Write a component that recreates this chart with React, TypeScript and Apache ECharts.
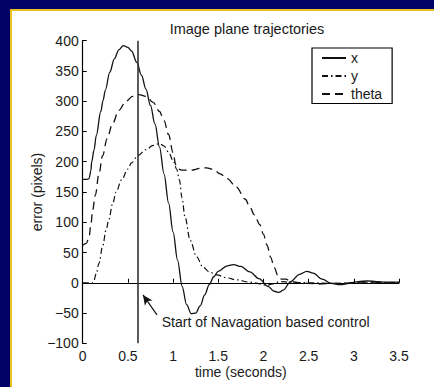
import React, { useEffect, useRef } from "react";
import * as echarts from "echarts";

const xTicks = [0, 0.5, 1, 1.5, 2, 2.5, 3, 3.5];
const yTicks = [-100, -50, 0, 50, 100, 150, 200, 250, 300, 350, 400];

const xTime = [0, 0.05, 0.07, 0.09, 0.1, 0.125, 0.15, 0.2, 0.225, 0.25, 0.3, 0.35, 0.4, 0.45, 0.5, 0.54, 0.6, 0.65, 0.7, 0.75, 0.8, 0.85, 0.9, 0.95, 1.0, 1.05, 1.1, 1.15, 1.2, 1.25, 1.3, 1.35, 1.4, 1.45, 1.5, 1.6, 1.67, 1.75, 1.85, 1.95, 2.05, 2.12, 2.17, 2.22, 2.3, 2.4, 2.48, 2.55, 2.65, 2.75, 2.85, 2.95, 3.05, 3.15, 3.25, 3.35, 3.5];
const xValues = [171, 171, 172, 185, 200, 219, 243, 283, 301, 318, 348, 370, 385, 392, 389, 383, 364, 343, 320, 293, 262, 224, 180, 132, 84, 37, -6, -36, -51, -50, -38, -20, -3, 10, 19, 28, 30, 27, 18, 7, -6, -14, -16, -12, 2, 14, 19, 16, 6, -1, -3, -1, 2, 3, 2, 1, 1];

const yTime = [0, 0.05, 0.1, 0.12, 0.15, 0.18, 0.22, 0.26, 0.29, 0.33, 0.37, 0.43, 0.5, 0.54, 0.61, 0.7, 0.78, 0.85, 0.9, 0.95, 1.0, 1.04, 1.07, 1.1, 1.13, 1.19, 1.26, 1.33, 1.4, 1.48, 1.6, 1.7, 1.85, 2.04, 2.1, 2.18, 2.3, 2.5, 2.8, 3.1, 3.5];
const yValues = [0, 0, -1, 2, 15, 32, 60, 88, 105, 130, 150, 170, 188, 198, 210, 220, 227, 230, 226, 216, 202, 188, 170, 140, 110, 70, 43, 26, 18, 13, 8, 5, 1, -4, -2, 2, 1, 0, -1, 1, 0];

const thetaTime = [0, 0.04, 0.07, 0.09, 0.11, 0.14, 0.18, 0.22, 0.27, 0.33, 0.4, 0.48, 0.55, 0.62, 0.7, 0.78, 0.85, 0.9, 0.95, 1.0, 1.03, 1.06, 1.1, 1.2, 1.3, 1.37, 1.45, 1.52, 1.6, 1.7, 1.8, 1.85, 1.9, 1.96, 2.0, 2.04, 2.08, 2.12, 2.16, 2.2, 2.25, 2.3, 2.4, 2.5, 2.6, 2.8, 3.0, 3.5];
const thetaValues = [62, 65, 75, 95, 120, 145, 180, 210, 238, 263, 285, 300, 308, 311, 308, 298, 283, 268, 245, 215, 195, 188, 186, 186, 189, 190, 187, 180, 172, 158, 138, 125, 112, 96, 80, 62, 42, 25, 12, 6, 6, 2, 0, -1, -2, -1, 0, 0];

const seriesNames = ["x", "y", "theta"];
const controlStart = 0.61;
const noteText = "Start of Navagation based control";
const notePoint = [0.875, -65];
const arrowFrom = [0.822, -53];
const arrowTo = [0.667, -20];

const pairs = (t: number[], v: number[]) => t.map((tt, i) => [tt, v[i]]);

const FONT = "'Liberation Sans', Arial, sans-serif";
const INK = "#1a1a1a";
const FS = 14;

export default function App() {
  const ref = useRef<HTMLDivElement>(null);
  useEffect(() => {
    if (!ref.current) return;
    const chart = echarts.init(ref.current, undefined, { renderer: "svg" });
    const lineCommon = {
      type: "line" as const,
      showSymbol: false,
      symbol: "none",
      smooth: 0.35,
      smoothMonotone: "x" as const,
    };
    chart.setOption({
      animation: false,
      textStyle: { fontFamily: FONT },
      title: {
        text: "Image plane trajectories",
        left: 242,
        top: 16,
        textAlign: "center",
        textStyle: { fontSize: 14.5, fontWeight: "normal", color: INK, fontFamily: FONT },
      },
      legend: {
        data: seriesNames,
        orient: "vertical",
        left: 312,
        top: 48,
        padding: [3, 10, 2.5, 9],
        itemWidth: 24,
        itemHeight: 12,
        itemGap: 4,
        borderColor: "#000",
        borderWidth: 1.2,
        backgroundColor: "#fff",
        itemStyle: { color: "transparent", borderWidth: 0, opacity: 0 },
        textStyle: { fontSize: FS, lineHeight: 12, color: INK, fontFamily: FONT },
      },
      grid: { left: 82.7, right: 35, top: 40.7, bottom: 43.7 },
      xAxis: {
        type: "value",
        min: 0,
        max: 3.5,
        interval: 0.5,
        name: "time (seconds)",
        nameLocation: "middle",
        nameGap: 22,
        nameMoveOverlap: false,
        nameTextStyle: { fontSize: FS, color: INK },
        axisLine: { lineStyle: { color: "#000", width: 1.2 } },
        axisTick: { inside: true, length: 4, lineStyle: { color: "#000" } },
        axisLabel: {
          fontSize: FS,
          color: INK,
          margin: 6,
          formatter: (v: number) => (xTicks.includes(v) ? String(v) : ""),
        },
        splitLine: { show: false },
      },
      yAxis: {
        type: "value",
        min: -100,
        max: 400,
        interval: 50,
        name: "error (pixels)",
        nameLocation: "middle",
        nameGap: 39,
        nameMoveOverlap: false,
        nameTextStyle: { fontSize: FS, color: INK },
        axisLine: { show: true, lineStyle: { color: "#000", width: 1.2 } },
        axisTick: { show: true, inside: true, length: 4, lineStyle: { color: "#000" } },
        axisLabel: {
          fontSize: FS,
          color: INK,
          margin: 4,
          formatter: (v: number) =>
            yTicks.includes(v) ? (v < 0 ? "\u2212" + Math.abs(v) : String(v)) : "",
        },
        splitLine: { show: false },
      },
      series: [
        {
          ...lineCommon,
          name: seriesNames[0],
          data: pairs(xTime, xValues),
          lineStyle: { color: "#111", width: 1.3, type: "solid" },
          itemStyle: { color: "#111" },
          markLine: {
            silent: true,
            symbol: "none",
            label: { show: false },
            lineStyle: { color: "#333", width: 1.6, type: "solid" },
            data: [{ xAxis: controlStart }],
          },
        },
        {
          ...lineCommon,
          name: seriesNames[1],
          data: pairs(yTime, yValues),
          lineStyle: { color: "#111", width: 1.2, type: [6, 3, 1.5, 3] },
          itemStyle: { color: "#111" },
          markLine: {
            silent: true,
            symbol: ["none", "arrow"],
            symbolSize: [7, 10],
            label: { show: false },
            lineStyle: { color: "#111", width: 1.2, type: "solid" },
            data: [[{ coord: arrowFrom }, { coord: arrowTo }]],
          },
          markPoint: {
            silent: true,
            symbol: "circle",
            symbolSize: 0,
            data: [{ coord: notePoint, value: 0 }],
            label: {
              show: true,
              position: "right",
              distance: 0,
              formatter: noteText,
              fontSize: FS,
              color: INK,
              fontFamily: FONT,
            },
          },
        },
        {
          ...lineCommon,
          name: seriesNames[2],
          data: pairs(thetaTime, thetaValues),
          lineStyle: { color: "#111", width: 1.3, type: [8, 5] },
          itemStyle: { color: "#111" },
        },
      ],
    });
    return () => chart.dispose();
  }, []);
  return (
    <div style={{ position: "fixed", left: 0, top: 0, width: 434, height: 387, background: "#000066", overflow: "hidden" }}>
      <div
        style={{
          position: "absolute",
          left: 10,
          top: 9,
          width: 430,
          height: 384,
          background: "#fff",
          borderLeft: "2px solid #e8c020",
          borderTop: "2px solid #e8c020",
        }}
      />
      <div ref={ref} style={{ position: "absolute", left: 0, top: 0, width: 434, height: 387 }} />
    </div>
  );
}
